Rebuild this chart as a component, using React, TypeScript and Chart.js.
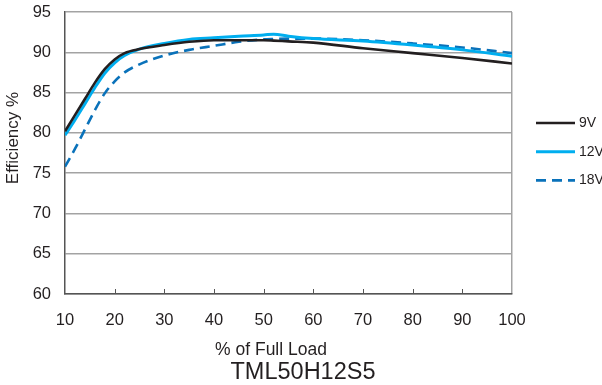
import React, { useEffect, useRef } from "react";
import { Chart, registerables } from "chart.js";

Chart.register(...registerables);

// ---- data ----
const loadPct = [10, 12, 14, 16, 18, 20, 22, 25, 30, 35, 40, 45, 50, 52, 55, 60, 70, 80, 90, 100];
const eff9V = [80.2, 82.2, 84.2, 86.2, 87.9, 89.1, 89.9, 90.4, 90.9, 91.3, 91.5, 91.5, 91.5, 91.45, 91.35, 91.2, 90.5, 89.9, 89.3, 88.6];
const eff12V = [79.7, 81.6, 83.6, 85.6, 87.4, 88.7, 89.6, 90.4, 91.1, 91.6, 91.8, 92.0, 92.15, 92.25, 92.0, 91.7, 91.4, 90.9, 90.3, 89.5];
const eff18V = [75.8, 78.0, 80.4, 82.8, 84.9, 86.4, 87.5, 88.5, 89.6, 90.3, 90.8, 91.3, 91.6, 91.65, 91.7, 91.7, 91.5, 91.1, 90.6, 89.9];
const seriesLabels = ["9V", "12V", "18V"];
const xTickValues = [10, 20, 30, 40, 50, 60, 70, 80, 90, 100];
const yMin = 60;
const yMax = 95;
const yStep = 5;
const xTitle = "% of Full Load";
const yTitle = "Efficiency %";
const chartTitle = "TML50H12S5";

const FONT = '"Liberation Sans", Arial, Helvetica, sans-serif';
const TEXT = "#231f20";
const AXIS = "#555555";
const GRID = "#a3a3a3";
const colors = ["#231f20", "#00aeef", "#0a72ba"];
const widths = [2.6, 3, 2.6];
const dashes: number[][] = [[], [], [10, 6]];

const decorPlugin = {
  id: "decor",
  afterDraw(chart: any) {
    const ctx = chart.ctx as CanvasRenderingContext2D;
    const xs = chart.scales.x;
    const area = chart.chartArea;
    ctx.save();
    // inward tick marks
    ctx.strokeStyle = AXIS;
    ctx.lineWidth = 1;
    xTickValues.forEach((v) => {
      if (v === xTickValues[0] || v === xTickValues[xTickValues.length - 1]) return;
      const px = Math.round(xs.getPixelForValue(v)) + 0.5;
      ctx.beginPath();
      ctx.moveTo(px, area.bottom);
      ctx.lineTo(px, area.bottom - 5);
      ctx.stroke();
    });
    // legend
    chart.data.datasets.forEach((ds: any, i: number) => {
      const y = 123 + i * 28.7;
      ctx.beginPath();
      ctx.strokeStyle = ds.borderColor;
      ctx.lineWidth = ds.borderWidth;
      ctx.setLineDash(ds.borderDash || []);
      ctx.moveTo(536, y);
      ctx.lineTo(575, y);
      ctx.stroke();
      ctx.setLineDash([]);
      ctx.fillStyle = TEXT;
      ctx.font = `14px ${FONT}`;
      ctx.textAlign = "left";
      ctx.textBaseline = "middle";
      ctx.fillText(ds.label, 579, y);
    });
    // titles
    ctx.fillStyle = TEXT;
    ctx.textAlign = "center";
    ctx.textBaseline = "middle";
    ctx.font = `17.5px ${FONT}`;
    ctx.fillText(xTitle, 271, 350);
    ctx.font = `23.5px ${FONT}`;
    ctx.fillText(chartTitle, 303, 373);
    ctx.save();
    ctx.translate(13, 138);
    ctx.rotate(-Math.PI / 2);
    ctx.font = `17px ${FONT}`;
    ctx.fillText(yTitle, 0, 0);
    ctx.restore();
    ctx.restore();
  },
};

export default function App() {
  const ref = useRef<HTMLCanvasElement | null>(null);
  useEffect(() => {
    if (!ref.current) return;
    const series = [eff9V, eff12V, eff18V];
    const chart = new Chart(ref.current, {
      type: "line",
      data: {
        datasets: series.map((s, i) => ({
          label: seriesLabels[i],
          data: loadPct.map((x, j) => ({ x, y: s[j] })),
          borderColor: colors[i],
          borderWidth: widths[i],
          borderDash: dashes[i],
          pointRadius: 0,
          fill: false,
          cubicInterpolationMode: "monotone" as const,
        })),
      },
      options: {
        responsive: false,
        animation: false,
        devicePixelRatio: 1,
        layout: { padding: { left: 0, right: 90, top: 12, bottom: 0 } },
        plugins: { legend: { display: false }, tooltip: { enabled: false } },
        scales: {
          x: {
            type: "linear",
            min: xTickValues[0],
            max: xTickValues[xTickValues.length - 1],
            afterBuildTicks: (scale: any) => {
              scale.ticks = xTickValues.map((v) => ({ value: v }));
            },
            afterFit: (scale: any) => {
              scale.height = 91;
              scale.paddingLeft = 0;
              scale.paddingRight = 0;
            },
            ticks: {
              autoSkip: false,
              maxRotation: 0,
              color: TEXT,
              padding: 17,
              font: { family: FONT, size: 16.5 },
            },
            grid: {
              drawTicks: false,
              lineWidth: 1.5,
              color: (c: any) => (c.tick && c.tick.value === 100 ? GRID : "rgba(0,0,0,0)"),
            },
            border: { color: AXIS, width: 1.5 },
          },
          y: {
            type: "linear",
            min: yMin,
            max: yMax,
            afterFit: (scale: any) => {
              scale.width = 65;
              scale.paddingTop = 0;
              scale.paddingBottom = 0;
            },
            ticks: {
              stepSize: yStep,
              color: TEXT,
              padding: 14,
              font: { family: FONT, size: 16.5 },
            },
            grid: { drawTicks: false, lineWidth: 1.5, color: GRID },
            border: { color: AXIS, width: 1.5 },
          },
        },
      },
      plugins: [decorPlugin],
    });
    return () => chart.destroy();
  }, []);
  return (
    <div style={{ position: "fixed", left: 0, top: 0, width: 602, height: 385, background: "#fff" }}>
      <canvas ref={ref} width={602} height={385} style={{ width: 602, height: 385, display: "block" }} />
    </div>
  );
}
